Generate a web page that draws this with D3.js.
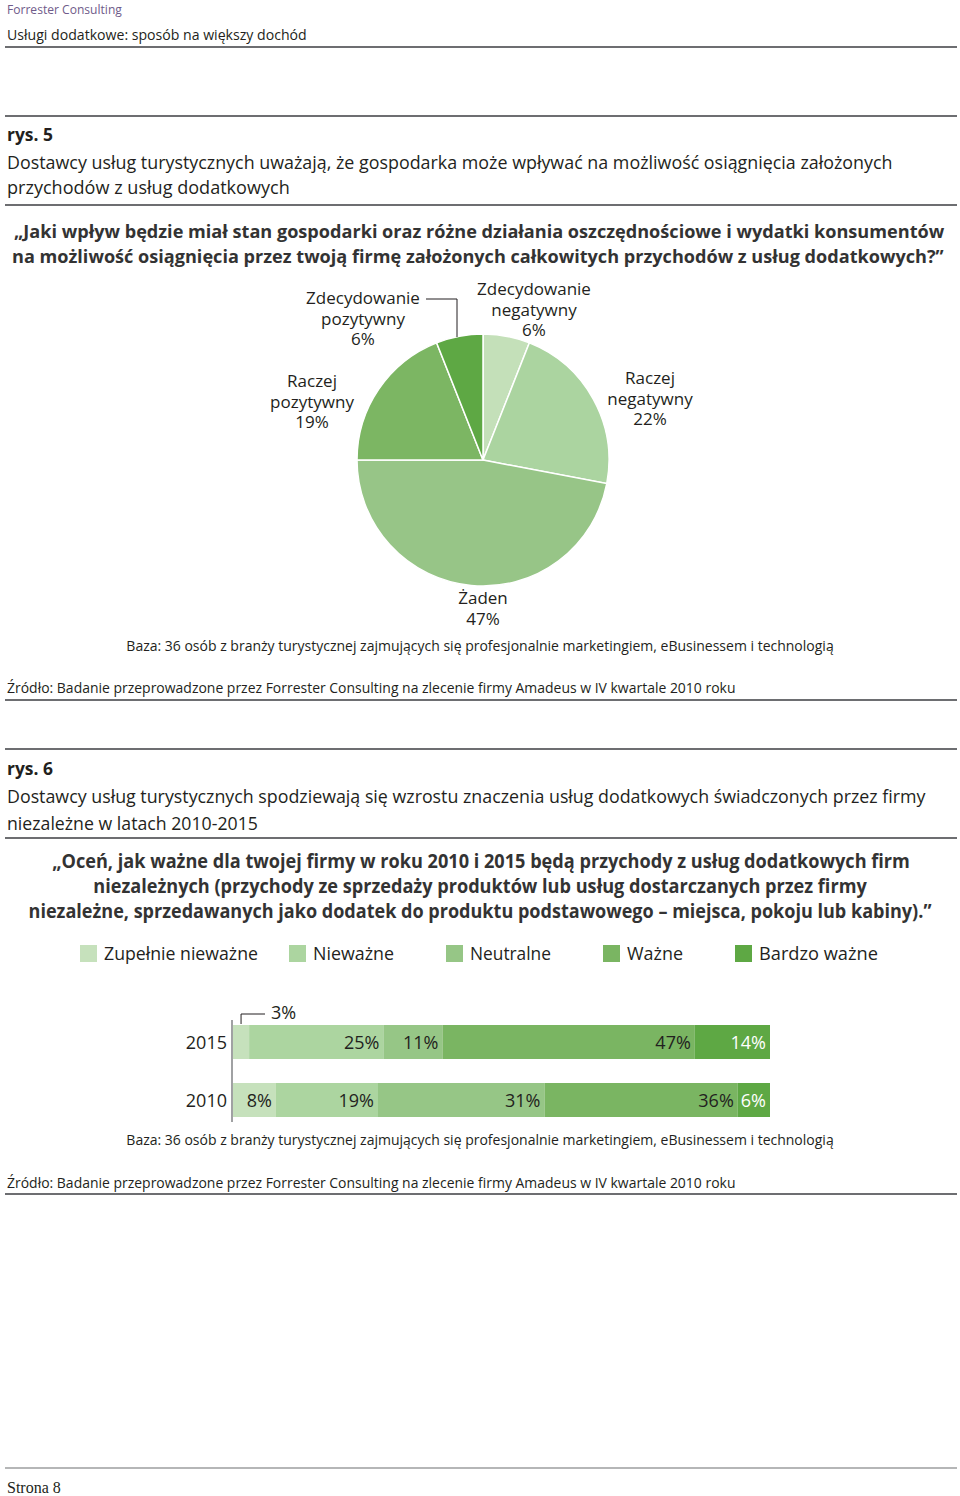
<!DOCTYPE html>
<html><head><meta charset="utf-8">
<script src="https://cdn.jsdelivr.net/npm/d3@7"></script>
<style>body{margin:0;background:#fff}svg{display:block}</style>
</head><body>
<script>
// ---------- DATA ----------
const pieCategories = [["Zdecydowanie","negatywny"],["Raczej","negatywny"],["Żaden"],["Raczej","pozytywny"],["Zdecydowanie","pozytywny"]];
const pieValues = [6, 22, 47, 19, 6];
const pieColors = ["#c4e0b9", "#abd4a0", "#97c587", "#7cb663", "#5ea844"];

const barSeries = ["Zupełnie nieważne", "Nieważne", "Neutralne", "Ważne", "Bardzo ważne"];
const barColors = ["#c6e1bc", "#acd5a0", "#96c686", "#7ab562", "#5ea844"];
const years = ["2015", "2010"];
const values2015 = [3, 25, 11, 47, 14];
const values2010 = [8, 19, 31, 36, 6];

const W = 960, H = 1496;
const FONT = "'Open Sans', 'Noto Sans', sans-serif";
const svg = d3.select("body").append("svg").attr("width", W).attr("height", H);

function txt(x, y, s, o = {}) {
  const t = svg.append("text").text(s)
    .attr("font-family", o.family || FONT)
    .attr("font-size", o.size || 17)
    .attr("font-weight", o.weight || "normal")
    .attr("fill", o.fill || "#231f20")
    .attr("text-anchor", o.anchor || "start");
  if (o.len) {
    const w = t.node().getComputedTextLength();
    t.attr("x", 0).attr("y", 0)
     .attr("transform", `translate(${x},${y}) scale(${o.len / w},1)`);
  } else {
    t.attr("x", x).attr("y", y);
  }
  return t;
}
function hline(y, x1 = 5, x2 = 957, w = 2, c = "#6d6e71") {
  svg.append("line").attr("x1", x1).attr("x2", x2).attr("y1", y).attr("y2", y)
    .attr("stroke", c).attr("stroke-width", w);
}

// ---------- HEADER ----------
txt(7, 14, "Forrester Consulting", {size: 13.5, fill: "#6f5b8a", len: 115});
txt(7, 40, "Usługi dodatkowe: sposób na większy dochód", {size: 15, len: 300});
hline(47);

// ---------- RYS 5 ----------
hline(116);
txt(7, 141, "rys. 5", {size: 18, weight: "bold", len: 46});
txt(7, 169, "Dostawcy usług turystycznych uważają, że gospodarka może wpływać na możliwość osiągnięcia założonych", {size: 19, len: 886});
txt(7, 194, "przychodów z usług dodatkowych", {size: 19, len: 283});
hline(205);
txt(14, 238, "„Jaki wpływ będzie miał stan gospodarki oraz różne działania oszczędnościowe i wydatki konsumentów", {size: 18.5, weight: "bold", fill: "#333", len: 931});
txt(12, 263, "na możliwość osiągnięcia przez twoją firmę założonych całkowitych przychodów z usług dodatkowych?”", {size: 18.5, weight: "bold", fill: "#333", len: 932});

// pie
const cx = 483, cy = 460, R = 126;
const pie = d3.pie().sort(null).value(d => d)(pieValues);
const arc = d3.arc().innerRadius(0).outerRadius(R);
svg.append("g").attr("transform", `translate(${cx},${cy})`)
  .selectAll("path").data(pie).join("path")
  .attr("d", arc).attr("fill", (d, i) => pieColors[i])
  .attr("stroke", "#fff").attr("stroke-width", 1.5);

// pie labels (layout positions)
const pieLabelPos = [[534, 295], [650, 384], [483, 604], [312, 387], [363, 304]];
pie.forEach((d, i) => {
  const lines = pieCategories[i].concat([pieValues[i] + "%"]);
  const [lx, ly] = pieLabelPos[i];
  lines.forEach((s, k) => txt(lx, ly + k * 20.5, s, {size: 17, anchor: "middle"}));
});
// leader for Zdecydowanie pozytywny
svg.append("path").attr("d", "M426,299H457V337").attr("fill", "none").attr("stroke", "#231f20").attr("stroke-width", 1);

txt(480, 651, "Baza: 36 osób z branży turystycznej zajmujących się profesjonalnie marketingiem, eBusinessem i technologią", {size: 15, anchor: "middle", len: 708});
txt(7, 693, "Źródło: Badanie przeprowadzone przez Forrester Consulting na zlecenie firmy Amadeus w IV kwartale 2010 roku", {size: 15, len: 729});
hline(700);

// ---------- RYS 6 ----------
hline(749);
txt(7, 775, "rys. 6", {size: 18, weight: "bold", len: 46});
txt(7, 803, "Dostawcy usług turystycznych spodziewają się wzrostu znaczenia usług dodatkowych świadczonych przez firmy", {size: 19, len: 919});
txt(7, 830, "niezależne w latach 2010-2015", {size: 19, len: 251});
hline(838);
txt(481, 868, "„Oceń, jak ważne dla twojej firmy w roku 2010 i 2015 będą przychody z usług dodatkowych firm", {size: 19, weight: "bold", fill: "#333", anchor: "middle", len: 858});
txt(480, 893, "niezależnych (przychody ze sprzedaży produktów lub usług dostarczanych przez firmy", {size: 19, weight: "bold", fill: "#333", anchor: "middle", len: 774});
txt(480, 918, "niezależne, sprzedawanych jako dodatek do produktu podstawowego – miejsca, pokoju lub kabiny).”", {size: 19, weight: "bold", fill: "#333", anchor: "middle", len: 904});

// legend
const legX = [80, 289, 446, 603, 735];
const legLen = [154, 81, 81, 56, 119];
barSeries.forEach((s, i) => {
  svg.append("rect").attr("x", legX[i]).attr("y", 945).attr("width", 17).attr("height", 17).attr("fill", barColors[i]);
  txt(legX[i] + 24, 960, s, {size: 18, len: legLen[i]});
});

// bars
const x = d3.scaleLinear().domain([0, 100]).range([233, 770]);
const y = d3.scaleBand().domain(years).range([1025, 1117]).paddingInner(24 / 58).paddingOuter(0);
const rows = [values2015, values2010].map((vals, r) => {
  let acc = 0;
  return vals.map((v, i) => { const s = {year: years[r], i, v, x0: acc, x1: acc + v}; acc += v; return s; });
});
const segs = rows.flat();
svg.append("g").selectAll("rect").data(segs).join("rect")
  .attr("x", d => x(d.x0)).attr("y", d => y(d.year))
  .attr("width", d => x(d.x1) - x(d.x0)).attr("height", y.bandwidth())
  .attr("fill", d => barColors[d.i]);
svg.append("line").attr("x1", 232).attr("x2", 232).attr("y1", 1020).attr("y2", 1122)
  .attr("stroke", "#808285").attr("stroke-width", 1.5);
segs.forEach(d => {
  if (d.v < 5) return;
  txt(x(d.x1) - 4, y(d.year) + y.bandwidth() / 2 + 7, d.v + "%", {size: 18, anchor: "end", fill: d.i === 4 ? "#ffffff" : "#231f20"});
});
// small value outside
segs.filter(d => d.v < 5).forEach(d => {
  const mx = (x(d.x0) + x(d.x1)) / 2;
  svg.append("path").attr("d", `M${mx},${y(d.year) - 1}V1014H265`).attr("fill", "none").attr("stroke", "#231f20").attr("stroke-width", 1);
  txt(271, 1019, d.v + "%", {size: 18});
});
years.forEach(yr => txt(227, y(yr) + y.bandwidth() / 2 + 7, yr, {size: 18, anchor: "end"}));

txt(480, 1145, "Baza: 36 osób z branży turystycznej zajmujących się profesjonalnie marketingiem, eBusinessem i technologią", {size: 15, anchor: "middle", len: 708});
txt(7, 1188, "Źródło: Badanie przeprowadzone przez Forrester Consulting na zlecenie firmy Amadeus w IV kwartale 2010 roku", {size: 15, len: 729});
hline(1194);

// footer
hline(1468, 5, 957, 1.2, "#6d6e71");
txt(7, 1493, "Strona 8", {size: 16, family: "'Liberation Serif', 'DejaVu Serif', serif"});
</script>
</body></html>
